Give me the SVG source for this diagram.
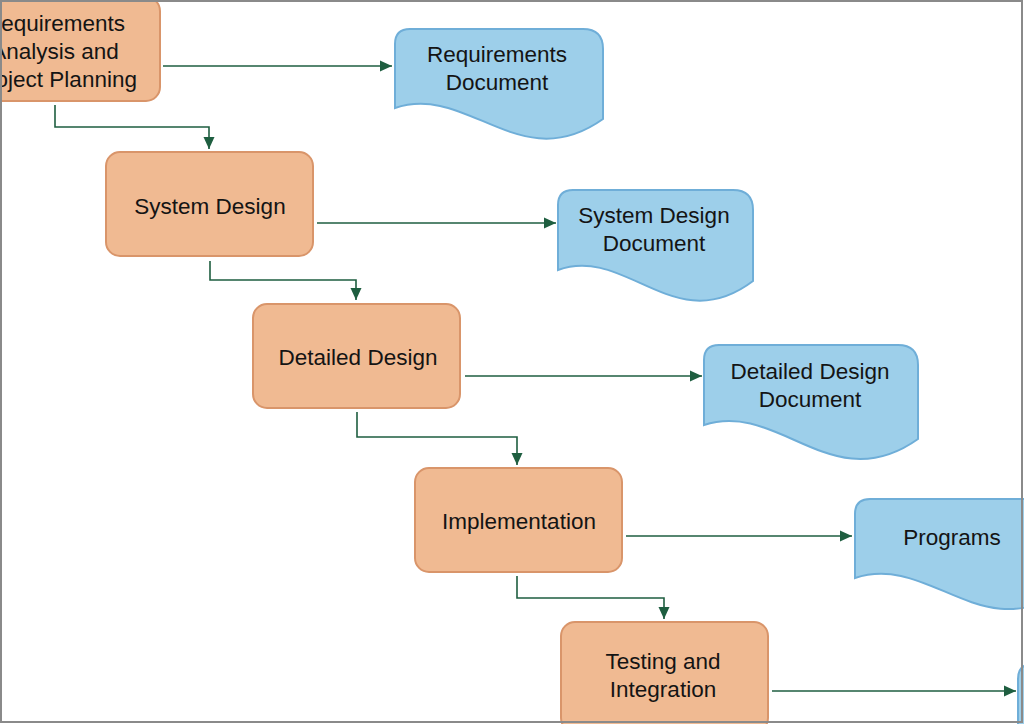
<svg xmlns="http://www.w3.org/2000/svg" width="1024" height="724" viewBox="0 0 1024 724">
<style>
.box{fill:#F0BA92;stroke:#D9956A;stroke-width:2}
.doc{fill:#9DCFEA;stroke:#6FAED8;stroke-width:2}
.t{font-family:"Liberation Sans",Arial,sans-serif;font-size:22.5px;fill:#141414;text-anchor:middle}
.c{fill:none;stroke:#1E5E40;stroke-width:1.6;marker-end:url(#ah)}
</style>
<defs>
<marker id="ah" markerUnits="userSpaceOnUse" markerWidth="14" markerHeight="14" viewBox="0 0 14 14" refX="13" refY="7" orient="auto">
<path d="M1,1.5 L13,7 L1,12.5 Z" fill="#1E5E40"/>
</marker>
</defs>
<rect x="0" y="0" width="1024" height="724" fill="#ffffff"/>
<g id="connectors">
<path class="c" d="M163,66 H392"/>
<path class="c" d="M317,223 H556"/>
<path class="c" d="M465,376 H702"/>
<path class="c" d="M626,536 H852"/>
<path class="c" d="M772,691 H1016"/>
<path class="c" d="M55,105 V127 H209 V149"/>
<path class="c" d="M210,261 V280 H356 V300"/>
<path class="c" d="M357,412 V437 H517 V465"/>
<path class="c" d="M517,576 V598 H664 V619"/>
</g>
<g id="n1"><rect class="box" x="-47" y="-3" width="207" height="104" rx="14"/>
<text class="t" x="55" y="31">Requirements</text><text class="t" x="55" y="59">Analysis and</text><text class="t" x="55" y="87">Project Planning</text></g>
<g id="n2"><rect class="box" x="106" y="152" width="207" height="104" rx="14"/>
<text class="t" x="210" y="214">System Design</text></g>
<g id="n3"><rect class="box" x="253" y="304" width="207" height="104" rx="14"/>
<text class="t" x="358" y="365">Detailed Design</text></g>
<g id="n4"><rect class="box" x="415" y="468" width="207" height="104" rx="14"/>
<text class="t" x="519" y="529">Implementation</text></g>
<g id="n5"><rect class="box" x="561" y="622" width="207" height="110" rx="14"/>
<text class="t" x="663" y="669">Testing and</text><text class="t" x="663" y="697">Integration</text></g>
<g id="d1"><path class="doc" d="M395,44 Q395,29 410,29 H583 Q603,29 603,49 V119 C519.8,178 467.8,83 395,108 Z"/>
<text class="t" x="497" y="62">Requirements</text><text class="t" x="497" y="90">Document</text></g>
<g id="d2"><path class="doc" d="M558,205 Q558,190 573,190 H733 Q753,190 753,210 V281 C675,340 626,245 558,270 Z"/>
<text class="t" x="654" y="223">System Design</text><text class="t" x="654" y="251">Document</text></g>
<g id="d3"><path class="doc" d="M704,360 Q704,345 719,345 H898 Q918,345 918,365 V439 C832,500 779,400 704,425 Z"/>
<text class="t" x="810" y="379">Detailed Design</text><text class="t" x="810" y="407">Document</text></g>
<g id="d4"><path class="doc" d="M855,514 Q855,499 870,499 H1045 Q1065,499 1065,519 V590 C981,648 929,553 855,578 Z"/>
<text class="t" x="952" y="545">Programs</text></g>
<g id="d5"><path class="doc" d="M1018,679 Q1018,664 1033,664 H1200 V760 H1018 Z"/></g>
<rect x="1" y="1" width="1021" height="721" fill="none" stroke="#8A8A8A" stroke-width="2"/>
</svg>
